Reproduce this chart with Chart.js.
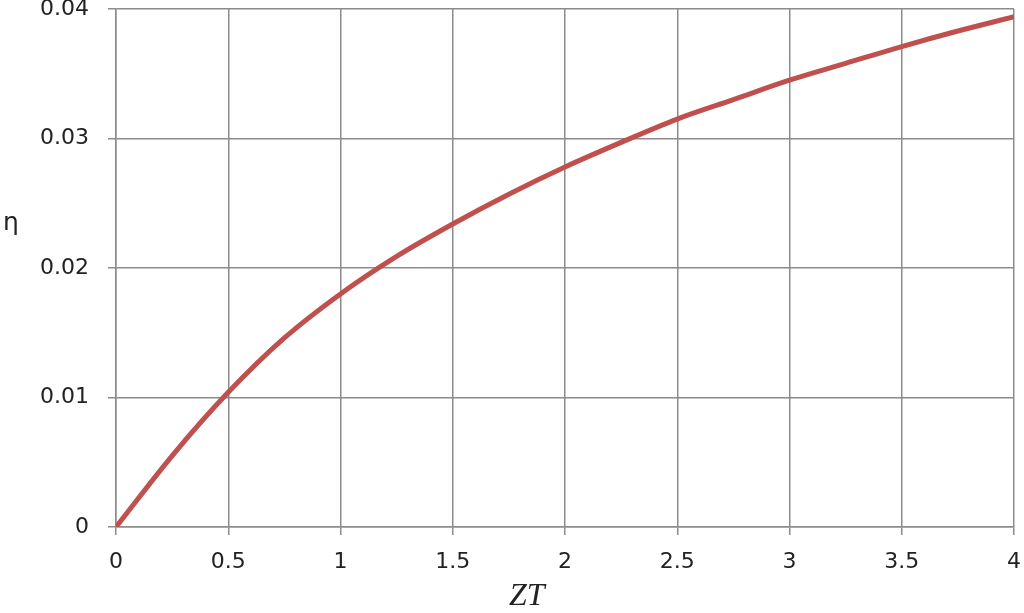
<!DOCTYPE html>
<html>
<head>
<meta charset="utf-8">
<script src="https://cdn.jsdelivr.net/npm/chart.js@4"></script>
<style>
  html, body { margin: 0; padding: 0; background: #fff; }
  #wrap { width: 1024px; height: 613px; }
</style>
</head>
<body>
<div id="wrap"><canvas id="eta-canvas" width="1024" height="613"></canvas></div>
<script>
const zt = [0, 0.25, 0.5, 0.75, 1, 1.25, 1.5, 1.75, 2, 2.25, 2.5, 2.75, 3, 3.25, 3.5, 3.75, 4];
const eta = [0, 0.0055, 0.0104, 0.0146, 0.0180, 0.0209, 0.0234, 0.0257, 0.0278, 0.0297, 0.0315, 0.0330, 0.0345, 0.0358, 0.0371, 0.0383, 0.0394];
const xTicks = ['0', '0.5', '1', '1.5', '2', '2.5', '3', '3.5', '4'];
const yTicks = ['0', '0.01', '0.02', '0.03', '0.04'];

const textColor = '#222';
const gridColor = '#8c8c8c';

function points(xs, ys) {
   let obj = new Array();
   for (let i = 0; i < xs.length; i++) {
      obj.push({ x: xs[i], y: ys[i] });
   }
   return obj;
}

// axis names drawn by hand: "ZT" sits left of centre, eta sits upright at the left
const axisNames = {
   id: 'axisNames',
   afterDraw(chart) {
      const c = chart.ctx;
      const x = chart.scales.x;
      const y = chart.scales.y;
      c.save();
      c.fillStyle = textColor;
      c.textAlign = 'center';
      c.textBaseline = 'middle';
      c.font = 'italic 32px "Liberation Serif"';
      c.fillText('ZT', x.getPixelForValue(1.83), 597);
      c.font = '25px "DejaVu Sans"';
      c.fillText('\u03B7', 11, y.getPixelForValue(0.0234));
      c.restore();
   }
};

// keep the plot area where the picture has it, whatever the labels want
function noPad(s) {
   s.paddingTop = 0; s.paddingBottom = 0; s.paddingLeft = 0; s.paddingRight = 0;
}

const ctx = document.getElementById('eta-canvas').getContext('2d');
const myChart = new Chart(ctx, {
   type: 'scatter',
   data: {
      datasets: [{
         data: points(zt, eta),
         showLine: true,
         borderColor: '#c0504d',
         borderWidth: 5,
         pointRadius: 0,
         cubicInterpolationMode: 'monotone',
         fill: false
      }]
   },
   options: {
      responsive: false,
      animation: false,
      layout: { padding: { top: 9, right: 10, left: 0, bottom: 0 } },
      plugins: { legend: { display: false }, tooltip: { enabled: false } },
      scales: {
         x: {
            type: 'linear', min: 0, max: 4,
            afterFit(s) { s.height = 86; noPad(s); },
            grid: { color: gridColor, lineWidth: 1.5, tickLength: 8, drawTicks: true },
            border: { color: gridColor, width: 1.5 },
            ticks: {
               stepSize: 0.5, padding: 14, color: textColor,
               font: { family: 'DejaVu Sans', size: 22 },
               callback: (v, i) => xTicks[i]
            }
         },
         y: {
            type: 'linear', min: 0, max: 0.04,
            afterFit(s) { s.width = 116; noPad(s); },
            grid: { color: gridColor, lineWidth: 1.5, tickLength: 8, drawTicks: true },
            border: { color: gridColor, width: 1.5 },
            ticks: {
               stepSize: 0.01, padding: 19, color: textColor,
               font: { family: 'DejaVu Sans', size: 22 },
               callback: (v, i) => yTicks[i]
            }
         }
      }
   },
   plugins: [axisNames]
});
</script>
</body>
</html>
